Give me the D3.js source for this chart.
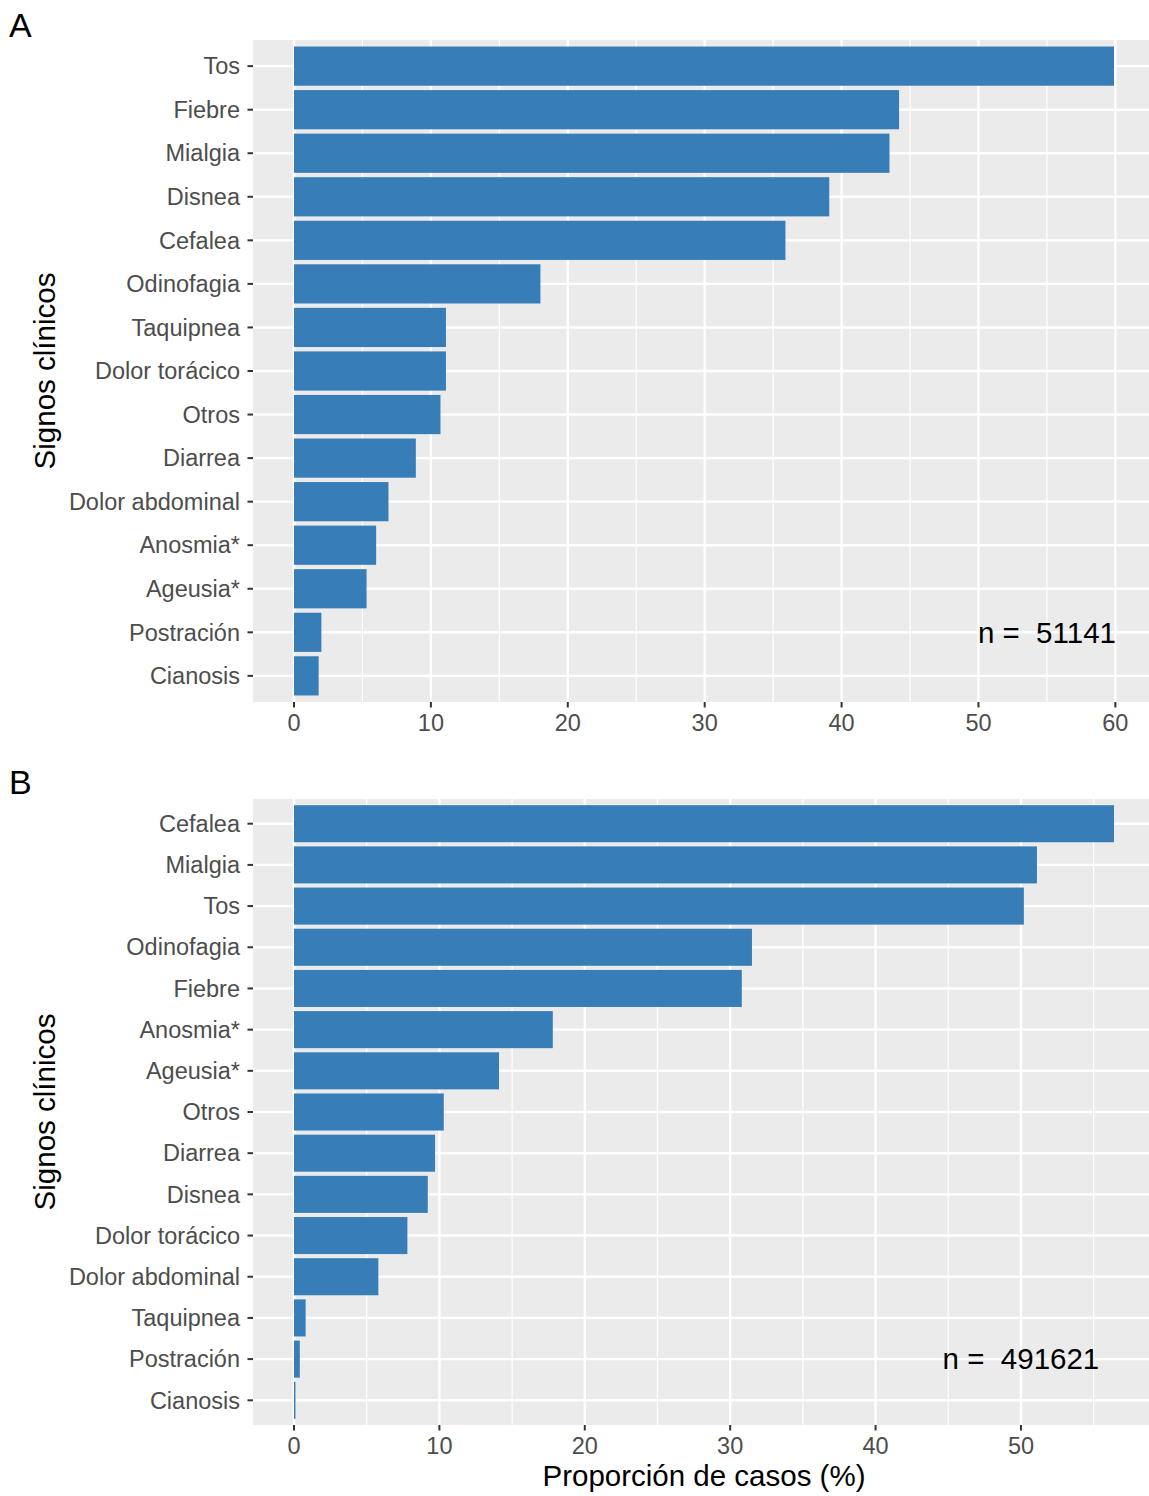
<!DOCTYPE html>
<html>
<head>
<meta charset="utf-8">
<script src="https://cdn.jsdelivr.net/npm/d3@7"></script>
<style>
  html, body { margin: 0; padding: 0; background: #fff; }
  svg { display: block; font-family: "Liberation Sans", Arial, sans-serif; }
  text { white-space: pre; }
</style>
</head>
<body>
<svg id="chart" width="1149" height="1496"></svg>
<script>
// ---- Data ----
const categoriesA = ["Tos","Fiebre","Mialgia","Disnea","Cefalea","Odinofagia","Taquipnea","Dolor torácico","Otros","Diarrea","Dolor abdominal","Anosmia*","Ageusia*","Postración","Cianosis"];
const valuesA = [59.9, 44.2, 43.5, 39.1, 35.9, 18.0, 11.1, 11.1, 10.7, 8.9, 6.9, 6.0, 5.3, 2.0, 1.8];
const nLabelA = "n =  51141";
const ticksA = [0, 10, 20, 30, 40, 50, 60];

const categoriesB = ["Cefalea","Mialgia","Tos","Odinofagia","Fiebre","Anosmia*","Ageusia*","Otros","Diarrea","Disnea","Dolor torácico","Dolor abdominal","Taquipnea","Postración","Cianosis"];
const valuesB = [56.4, 51.1, 50.2, 31.5, 30.8, 17.8, 14.1, 10.3, 9.7, 9.2, 7.8, 5.8, 0.8, 0.4, 0.1];
const nLabelB = "n =  491621";
const ticksB = [0, 10, 20, 30, 40, 50];

const panelLabels = ["A", "B"];
const yTitle = "Signos clínicos";
const xTitle = "Proporción de casos (%)";

// ---- Drawing ----
const svg = d3.select("#chart");
const barColor = "#377EB8";
const bg = "#EBEBEB";

function drawPanel(cfg) {
  const { cats, vals, ticks, nLabel, nAt, top, bottom, left, right, tag, tagY } = cfg;
  const g = svg.append("g");
  const maxV = d3.max(vals);
  const x = d3.scaleLinear().domain([-0.05 * maxV, 1.05 * maxV]).range([left, right]);
  // ggplot expands a discrete axis by 0.6 units on each side
  const y = d3.scalePoint().domain(cats).range([top, bottom]).padding(0.6);
  const yc = d => y(d);
  const bh = y.step() * 0.9;

  const clipId = "clip" + tag;
  svg.append("clipPath").attr("id", clipId).append("rect")
    .attr("x", left).attr("y", top).attr("width", right - left).attr("height", bottom - top);

  const pg = g.append("g").attr("clip-path", `url(#${clipId})`);
  pg.append("rect").attr("x", left).attr("y", top).attr("width", right - left).attr("height", bottom - top).attr("fill", bg);

  // minor grid
  const half = (ticks[1] - ticks[0]) / 2;
  const minor = [ticks[0] - half].concat(ticks.map(t => t + half));
  pg.selectAll(".minor").data(minor).join("line")
    .attr("x1", d => x(d)).attr("x2", d => x(d))
    .attr("y1", top).attr("y2", bottom)
    .attr("stroke", "#fff").attr("stroke-width", 1.2);
  // major grid
  pg.selectAll(".majx").data(ticks).join("line")
    .attr("x1", d => x(d)).attr("x2", d => x(d))
    .attr("y1", top).attr("y2", bottom)
    .attr("stroke", "#fff").attr("stroke-width", 2.4);
  pg.selectAll(".majy").data(cats).join("line")
    .attr("x1", left).attr("x2", right)
    .attr("y1", d => yc(d)).attr("y2", d => yc(d))
    .attr("stroke", "#fff").attr("stroke-width", 2.4);

  // bars
  pg.selectAll(".bar").data(cats.map((c, i) => ({ c, v: vals[i] }))).join("rect")
    .attr("x", x(0)).attr("y", d => yc(d.c) - bh / 2)
    .attr("width", d => Math.max(0.8, x(d.v) - x(0))).attr("height", bh)
    .attr("fill", barColor);

  // annotation
  pg.append("text").attr("x", x(nAt.x)).attr("y", yc(nAt.cat)).attr("dy", "0.35em")
    .attr("text-anchor", "middle").attr("font-size", 29.5).attr("fill", "#000").text(nLabel);

  // y axis ticks + labels
  g.selectAll(".yt").data(cats).join("line")
    .attr("x1", left - 5.5).attr("x2", left).attr("y1", d => yc(d)).attr("y2", d => yc(d))
    .attr("stroke", "#333").attr("stroke-width", 2);
  g.selectAll(".yl").data(cats).join("text")
    .attr("x", left - 13).attr("y", d => yc(d)).attr("dy", "0.35em")
    .attr("text-anchor", "end").attr("font-size", 23.5).attr("fill", "#4D4D4D").text(d => d);

  // x axis ticks + labels
  g.selectAll(".xt").data(ticks).join("line")
    .attr("x1", d => x(d)).attr("x2", d => x(d)).attr("y1", bottom).attr("y2", bottom + 5.5)
    .attr("stroke", "#333").attr("stroke-width", 2);
  g.selectAll(".xl").data(ticks).join("text")
    .attr("x", d => x(d)).attr("y", bottom + 29)
    .attr("text-anchor", "middle").attr("font-size", 23.5).attr("fill", "#4D4D4D").text(d => d);

  // y title
  g.append("text").attr("transform", `translate(55,${(top + bottom) / 2}) rotate(-90)`)
    .attr("text-anchor", "middle").attr("font-size", 29.5).attr("fill", "#000").text(yTitle);

  // tag
  svg.append("text").attr("x", 9).attr("y", tagY).attr("font-size", 34).attr("fill", "#000").text(tag);
  return x;
}

drawPanel({ cats: categoriesA, vals: valuesA, ticks: ticksA, nLabel: nLabelA, nAt: { x: 55, cat: "Postración" },
  top: 40, bottom: 702, left: 253, right: 1155, tag: panelLabels[0], tagY: 37 });
drawPanel({ cats: categoriesB, vals: valuesB, ticks: ticksB, nLabel: nLabelB, nAt: { x: 50, cat: "Postración" },
  top: 799, bottom: 1425, left: 253, right: 1155, tag: panelLabels[1], tagY: 794 });

svg.append("text").attr("x", (253 + 1155) / 2).attr("y", 1486)
  .attr("text-anchor", "middle").attr("font-size", 29.5).attr("fill", "#000").text(xTitle);
</script>
</body>
</html>
